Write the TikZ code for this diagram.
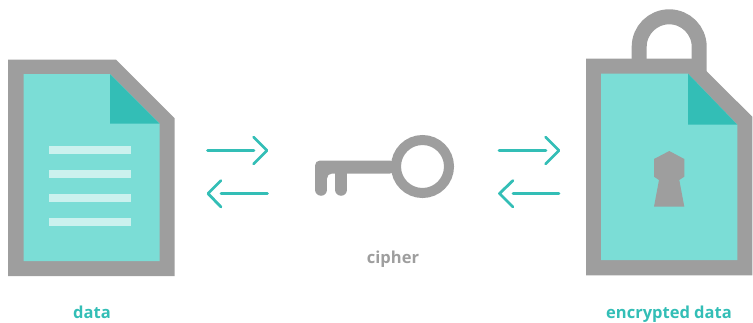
\documentclass[tikz,border=0pt]{standalone}
\usepackage{xcolor}
\usepackage{fontspec}
\setmainfont{Open Sans}
\definecolor{casegrey}{HTML}{9E9E9E}
\definecolor{pagelight}{HTML}{7BDDD6}
\definecolor{pagedark}{HTML}{33BEB6}
\definecolor{textline}{HTML}{CBF1EE}
\tikzset{
  flow/.style={draw=pagedark, line width=2.8pt, line cap=round, line join=round},
  caption/.style={font=\bfseries\fontsize{16.5}{18}\selectfont, inner sep=0pt, anchor=base},
}
\begin{document}
\begin{tikzpicture}[x=1pt,y=-1pt]
\useasboundingbox (0,0) rectangle (753,322);

% data file
\fill[casegrey] (8,59.5)--(116,59.5)--(174.5,118)--(174.5,276)--(8,276)--cycle;
\fill[pagelight] (23.5,74)--(110,74)--(159.5,123.5)--(159.5,261)--(23.5,261)--cycle;
\fill[pagedark] (110,74)--(159.5,123.5)--(110,123.5)--cycle;
\foreach \y in {150,174,198,222}
  \fill[textline] (49,\y-4)rectangle(131,\y+4);

% arrows left
\coordinate (dataout) at (207.5,150.5);
\coordinate (cipherin) at (254,150.5);
\coordinate (cipherout) at (267.5,193.5);
\coordinate (datain) at (221,193.5);
\draw[flow] (dataout)--(cipherin);
\draw[flow] (253.5,137)--(267,150.5)--(253.5,164);
\draw[flow] (cipherout)--(datain);
\draw[flow] (221,180.5)--(208,193.5)--(221,207);

% key
\draw[casegrey, line width=10pt] (422.5,166.5) circle (26.5);
\fill[casegrey, rounded corners=5pt] (315,160.5)--(395,160.5)--(395,173.5)--(327,173.5)--(327,182)--(315,182)--cycle;
\draw[casegrey, line width=12.3pt, line cap=round] (321.1,170)--(321.1,189.6) (341.2,170)--(341.2,189.6);
\node[caption, text=casegrey] (cipher) at (393,263.5) {cipher};

% arrows right
\coordinate (keyout) at (499,150.5);
\coordinate (lockin) at (546,150.5);
\coordinate (lockout) at (559,193.5);
\coordinate (keyin) at (513,193.5);
\draw[flow] (keyout)--(lockin);
\draw[flow] (545.5,137)--(559,150.5)--(545.5,164);
\draw[flow] (lockout)--(keyin);
\draw[flow] (513,180.5)--(499.5,193.5)--(513,207);

% encrypted file with lock
\draw[casegrey, line width=15pt] (639.2,66)--(639.2,46.8) arc[start angle=180,end angle=0,radius=30,y radius=-30]--(699.2,72);
\fill[casegrey] (586,58.7)--(695,58.7)--(707,71.7)--(752.3,116.7)--(752.3,275.3)--(586,275.3)--cycle;
\fill[pagelight] (601,73.7)--(688,73.7)--(737.3,124.7)--(737.3,260)--(601,260)--cycle;
\fill[pagedark] (688,73.7)--(737.3,124.7)--(688,124.7)--cycle;
\fill[casegrey] (669.3,151)--(684.3,159)--(684.3,176.7)--(679.3,180)--(684.3,206.7)--(654,206.7)--(659,180)--(654,176.7)--(654,159)--cycle;

\node[caption, text=pagedark] (data) at (92,318) {data};
\node[caption, text=pagedark] (encrypted) at (669,318) {encrypted data};
\end{tikzpicture}
\end{document}
